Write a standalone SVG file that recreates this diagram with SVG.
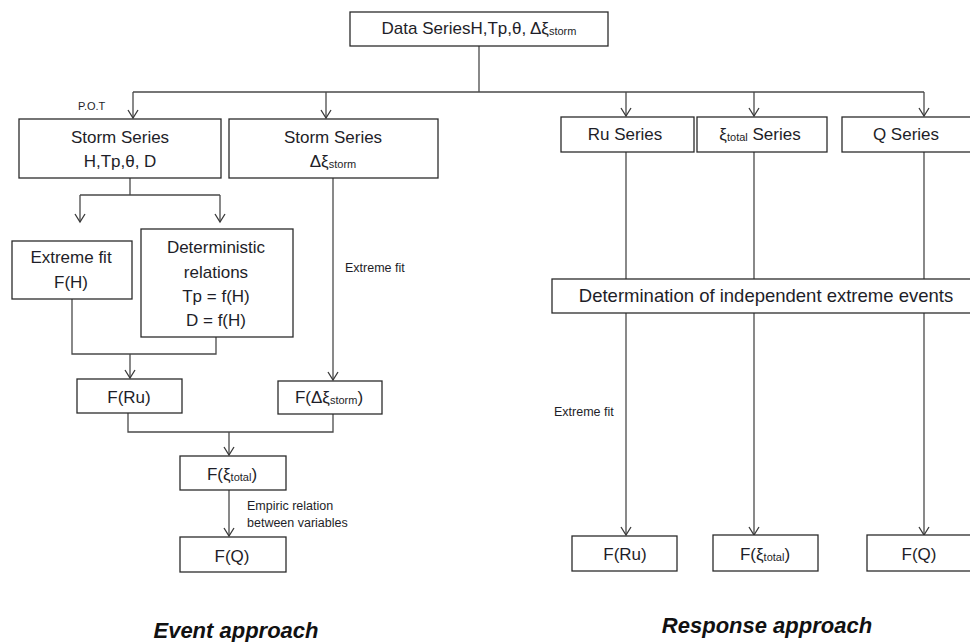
<svg xmlns="http://www.w3.org/2000/svg" width="970" height="642" viewBox="0 0 970 642">
<defs>
<style>
.box{fill:#fff;stroke:#2b2b2b;stroke-width:1.3}
.t{font-family:"Liberation Sans",Arial,sans-serif;font-size:17px;fill:#1e1e28;text-anchor:middle}
.s{font-size:11px}
.lbl{font-family:"Liberation Sans",Arial,sans-serif;font-size:12.5px;fill:#1e1e28}
.ttl{font-family:"Liberation Sans",Arial,sans-serif;font-size:22px;font-weight:bold;font-style:italic;fill:#111;text-anchor:middle}
.c{fill:none;stroke:#4a4a4a;stroke-width:1.3}
.a{marker-end:url(#arr)}
</style>
<marker id="arr" viewBox="-10 -6 12 12" refX="0" refY="0" markerWidth="12" markerHeight="12" markerUnits="userSpaceOnUse" orient="auto">
<path d="M-8,-5 L0,0 L-8,5" fill="none" stroke="#3a3a3a" stroke-width="1.3"/>
</marker>
</defs>
<rect width="970" height="642" fill="#fff"/>

<g id="connectors">
<path class="c" d="M479,46 V92 M133,92 H924"/>
<path class="c a" d="M133,92 V118"/>
<path class="c a" d="M326,92 V118"/>
<path class="c a" d="M626,92 V116"/>
<path class="c a" d="M754,92 V116"/>
<path class="c a" d="M924,92 V116"/>
<path class="c" d="M130,178 V195 M80,195 H220"/>
<path class="c a" d="M80,195 V222"/>
<path class="c a" d="M220,195 V222"/>
<path class="c" d="M72,299 V354 H216 V337"/>
<path class="c a" d="M130,354 V378"/>
<path class="c a" d="M333,178 V380"/>
<path class="c" d="M128,413 V432 H333 V414"/>
<path class="c a" d="M229,432 V455"/>
<path class="c a" d="M229,490 V536"/>
<path class="c" d="M626,152 V279 M754,152 V279 M924,152 V279"/>
<path class="c a" d="M626,313 V535"/>
<path class="c a" d="M754,313 V535"/>
<path class="c a" d="M924,313 V535"/>
</g>

<g id="data-series">
<rect class="box" x="350" y="12" width="258" height="34"/>
<text class="t" x="479" y="34">Data SeriesH,Tp,θ, Δξ<tspan class="s" dy="1">storm</tspan></text>
</g>

<g id="storm-series-1">
<rect class="box" x="19" y="119" width="202" height="59"/>
<text class="t" x="120" y="143">Storm Series</text>
<text class="t" x="120" y="167">H,Tp,θ, D</text>
</g>

<g id="storm-series-2">
<rect class="box" x="229" y="119" width="209" height="59"/>
<text class="t" x="333" y="143">Storm Series</text>
<text class="t" x="333" y="167">Δξ<tspan class="s" dy="1">storm</tspan></text>
</g>

<g id="extreme-fit-fh">
<rect class="box" x="12" y="241" width="120" height="58"/>
<text class="t" x="71" y="263">Extreme fit</text>
<text class="t" x="71" y="288">F(H)</text>
</g>

<g id="deterministic">
<rect class="box" x="141" y="229" width="152" height="108"/>
<text class="t" x="216" y="253">Deterministic</text>
<text class="t" x="216" y="278">relations</text>
<text class="t" x="216" y="302">Tp = f(H)</text>
<text class="t" x="216" y="326">D = f(H)</text>
</g>

<g id="f-ru-left">
<rect class="box" x="77" y="379" width="105" height="34"/>
<text class="t" x="129" y="403">F(Ru)</text>
</g>

<g id="f-dxi-storm">
<rect class="box" x="278" y="381" width="104" height="33"/>
<text class="t" x="329" y="403">F(Δξ<tspan class="s" dy="1">storm</tspan><tspan dy="-1">)</tspan></text>
</g>

<g id="f-xi-total-left">
<rect class="box" x="180" y="456" width="106" height="34"/>
<text class="t" x="232" y="480">F(ξ<tspan class="s" dy="1">total</tspan><tspan dy="-1">)</tspan></text>
</g>

<g id="f-q-left">
<rect class="box" x="180" y="537" width="106" height="35"/>
<text class="t" x="232" y="562">F(Q)</text>
</g>

<g id="ru-series">
<rect class="box" x="561" y="117" width="133" height="35"/>
<text class="t" x="625" y="140">Ru Series</text>
</g>

<g id="xi-total-series">
<rect class="box" x="697" y="117" width="130" height="35"/>
<text class="t" x="760" y="140">ξ<tspan class="s" dy="1">total</tspan><tspan dy="-1"> Series</tspan></text>
</g>

<g id="q-series">
<rect class="box" x="842" y="117" width="130" height="35"/>
<text class="t" x="906" y="140">Q Series</text>
</g>

<g id="determination">
<rect class="box" x="552" y="279" width="422" height="34"/>
<text class="t" x="766" y="302" style="font-size:18.5px">Determination of independent extreme events</text>
</g>

<g id="f-ru-right">
<rect class="box" x="572" y="536" width="105" height="35"/>
<text class="t" x="625" y="560">F(Ru)</text>
</g>

<g id="f-xi-total-right">
<rect class="box" x="713" y="535" width="105" height="36"/>
<text class="t" x="765" y="560">F(ξ<tspan class="s" dy="1">total</tspan><tspan dy="-1">)</tspan></text>
</g>

<g id="f-q-right">
<rect class="box" x="867" y="535" width="106" height="36"/>
<text class="t" x="919" y="560">F(Q)</text>
</g>

<g id="labels">
<text class="lbl" x="78" y="110" style="font-size:11px">P.O.T</text>
<text class="lbl" x="345" y="272">Extreme fit</text>
<text class="lbl" x="554" y="416">Extreme fit</text>
<text class="lbl" x="247" y="510">Empiric relation</text>
<text class="lbl" x="247" y="527">between variables</text>
<text class="ttl" x="236" y="638">Event approach</text>
<text class="ttl" x="767" y="633">Response approach</text>
</g>
</svg>
